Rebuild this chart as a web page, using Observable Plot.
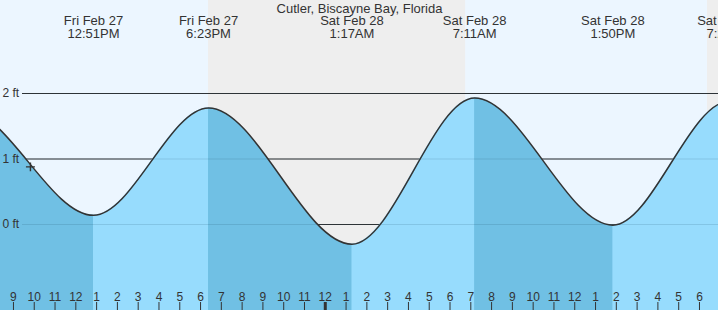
<!DOCTYPE html>
<html><head><meta charset="utf-8">
<script src="https://cdn.jsdelivr.net/npm/d3@7"></script>
<script src="https://cdn.jsdelivr.net/npm/@observablehq/plot@0.6"></script>
<style>
html,body{margin:0;padding:0;background:#fff;overflow:hidden;}
</style></head><body><div id="chart"></div>
<script>
const title = "Cutler, Biscayne Bay, Florida";
// tide extremes (first two and last one lie outside the visible window)
const extremeTimes = ["2026-02-27T00:25Z","2026-02-27T06:38Z","2026-02-27T12:51Z","2026-02-27T18:23Z","2026-02-28T01:17Z","2026-02-28T07:11Z","2026-02-28T13:50Z","2026-02-28T19:25Z","2026-03-01T02:05Z"];
const extremeHeights = [0.0, 1.75, 0.14, 1.78, -0.30, 1.93, -0.01, 1.88, -0.25];
const extremeLabels = ["", "", "Fri Feb 27\n12:51PM", "Fri Feb 27\n6:23PM", "Sat Feb 28\n1:17AM", "Sat Feb 28\n7:11AM", "Sat Feb 28\n1:50PM", "Sat Feb 28\n7:25PM", ""];
// day / night boundaries
const sunTimes = ["2026-02-27T08:22:36Z","2026-02-27T18:23Z","2026-02-28T06:45Z","2026-02-28T18:23Z","2026-02-28T18:54:54Z"];
const sunPhases = ["day","night","day","night"];
const gridFeet = [0, 1, 2];
const hourLabels = ["9","10","11","12","1","2","3","4","5","6","7","8","9","10","11","12","1","2","3","4","5","6","7","8","9","10","11","12","1","2","3","4","5","6"];
const firstHour = "2026-02-27T09:00Z";
const nowTime = "2026-02-27T09:49Z";
const nowHeight = 0.88;
const xDomain = ["2026-02-27T08:22:36Z", "2026-02-28T18:54:54Z"];
const yDomain = [-1.313, 3.42];

const waterLight = "#97dcfd", waterDark = "#70c0e4";
const tide = extremeTimes.map((t, i) => ({t: new Date(t), h: extremeHeights[i], label: extremeLabels[i]}));
const sun = sunPhases.map((p, i) => ({x1: new Date(sunTimes[i]), x2: new Date(sunTimes[i + 1]), phase: p}));
const falling = [];
for (let i = 0; i < tide.length - 1; i++) {
  if (tide[i + 1].h < tide[i].h) falling.push({x1: tide[i].t, x2: tide[i + 1].t});
}
const hourStart = new Date(firstHour);
const hours = hourLabels.map((l, i) => ({t: d3.utcHour.offset(hourStart, i), label: l}));
hours.forEach(d => d.midnight = d.t.getUTCHours() === 0);

const font = "Liberation Sans, Arial, Helvetica, sans-serif";
const chart = Plot.plot({
  width: 718, height: 310, margin: 0,
  x: {type: "utc", domain: xDomain.map(d => new Date(d)), axis: null},
  y: {domain: yDomain, axis: null},
  style: {fontFamily: font, background: "#fff"},
  marks: [
    Plot.rect(sun.filter(d => d.phase === "day"), {x1: "x1", x2: "x2", fill: "#ecf6ff"}),
    Plot.rect(sun.filter(d => d.phase === "night"), {x1: "x1", x2: "x2", fill: "#eeeeee"}),
    Plot.ruleY(gridFeet, {stroke: "#333", strokeWidth: 1, insetLeft: 22}),
    Plot.areaY(tide, {x: "t", y1: () => yDomain[0] - 1, y2: "h", fill: waterLight, curve: "monotone-x", clip: true}),
    Plot.rect(falling, {x1: "x1", x2: "x2", fill: waterDark}),
    Plot.ruleY(gridFeet, {stroke: "#0b3a55", strokeOpacity: 0.14, strokeWidth: 1, insetLeft: 22}),
    Plot.line(tide, {x: "t", y: "h", stroke: "#333", strokeWidth: 1.5, curve: "monotone-x", clip: true}),
    Plot.dot([{t: new Date(nowTime), h: nowHeight}], {x: "t", y: "h", symbol: "plus", r: 3, stroke: "#333", strokeWidth: 1.4}),
    Plot.text(gridFeet, {y: d => d, text: d => `${d} ft`, frameAnchor: "left", dx: 2, textAnchor: "start", fontSize: 12, fill: "#333"}),
    Plot.text([title], {text: d => d, frameAnchor: "top", dy: 3, fontSize: 13, fill: "#333"}),
    Plot.text(tide.filter(d => d.label), {x: "t", text: "label", frameAnchor: "top", dy: 15, fontSize: 13, lineHeight: 1, fill: "#333"}),
    Plot.ruleX(hours, {x: "t", stroke: "#333", strokeWidth: d => d.midnight ? 3 : 1, insetTop: 302}),
    Plot.text(hours, {x: "t", text: "label", frameAnchor: "top", dy: 291.5, fontSize: 12, fill: "#333"})
  ]
});
document.getElementById("chart").appendChild(chart);

// clip the falling-tide shading to the water area
const svg = d3.select(chart);
const areaPath = svg.select('g[aria-label="area"] path');
const darkG = svg.selectAll('g[aria-label="rect"]').filter(function() { return this.getAttribute("fill") === waterDark; });
if (!areaPath.empty()) {
  svg.insert("defs", ":first-child").append("clipPath").attr("id", "waterclip").append("path").attr("d", areaPath.attr("d"));
  darkG.attr("clip-path", "url(#waterclip)");
}
</script>
</body></html>
